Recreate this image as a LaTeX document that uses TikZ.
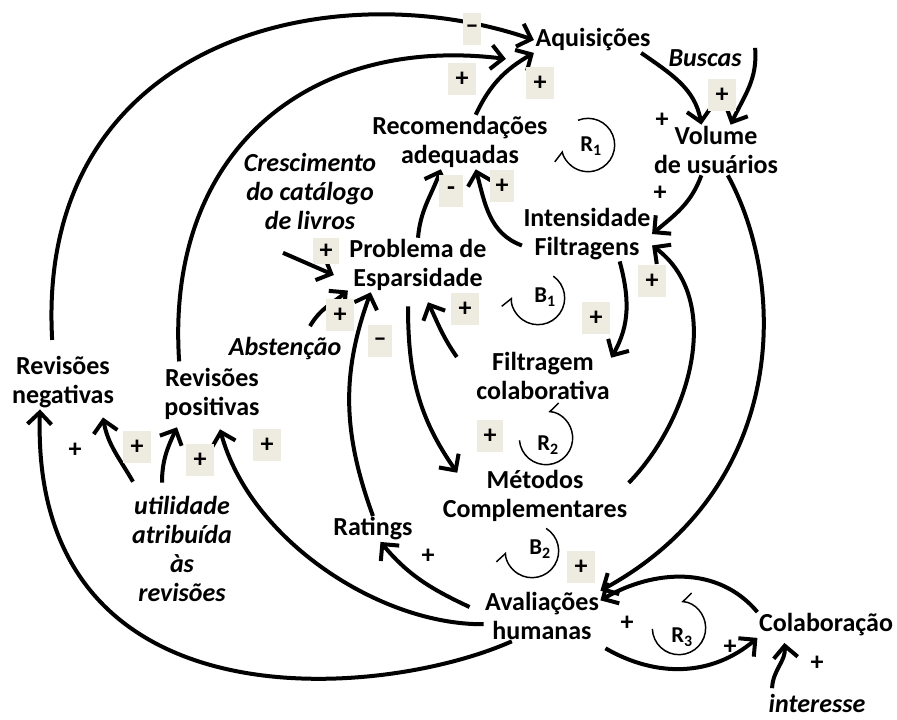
\documentclass[tikz,border=0pt]{standalone}
\usepackage{fontspec}
\setmainfont{Carlito}
\usepackage{xcolor}
\usetikzlibrary{calc, arrows.meta}
\definecolor{signbg}{HTML}{EEECE1}
\tikzset{
    vari/.style={align=center, inner sep=1pt, font=\bfseries\fontsize{19.5}{21.75}\selectfont},
    exo/.style={align=center, inner sep=1pt, font=\bfseries\itshape\fontsize{19.5}{21.75}\selectfont},
    arrow/.style={-{Straight Barb[length=9pt, width=18pt]}, line width=3pt},
    sgn/.style={rectangle, fill=signbg, minimum width=21pt, minimum height=24pt, inner sep=0pt, font=\bfseries\fontsize{19.5}{21.75}\selectfont},
    sgnPlain/.style={inner sep=0pt, font=\bfseries\fontsize{19.5}{21.75}\selectfont},
    loopLbl/.style={inner sep=0pt, font=\bfseries\fontsize{17}{20}\selectfont},
    loopCw/.style={-{Straight Barb[harpoon, length=6pt, width=14pt]}, line width=1.1pt},
    loopCcw/.style={-{Straight Barb[harpoon, swap, length=6pt, width=14pt]}, line width=1.1pt}
}

\begin{document}
\begin{tikzpicture}[x=0.75pt, y=-0.75pt]
    \useasboundingbox (0,0) rectangle (897,719);

    % Variables
    \node[vari] (Aquis) at (593,40) {Aquisições};
    \node[exo] (Buscas) at (705,58) {Buscas};
    \node[vari] (Volume) at (716,150) {Volume\\de usuários};
    \node[vari] (Recom) at (460,142) {Recomendações\\adequadas};
    \node[exo] (Cresc) at (310,191) {Crescimento\\do catálogo\\de livros};
    \node[vari] (Intens) at (587,234) {Intensidade\\Filtragens};
    \node[vari] (Problema) at (418,265) {Problema de\\Esparsidade};
    \node[exo] (Abst) at (285,349) {Abstenção};
    \node[vari] (RevNeg) at (63,382) {Revisões\\negativas};
    \node[vari] (RevPos) at (212,394) {Revisões\\positivas};
    \node[vari] (FiltColab) at (543,376) {Filtragem\\colaborativa};
    \node[vari] (Metodos) at (535,496) {Métodos\\Complementares};
    \node[exo] (Util) at (182,549) {utilidade\\atribuída\\às\\revisões};
    \node[vari] (Ratings) at (373,529) {Ratings};
    \node[vari] (Aval) at (542,616) {Avaliações\\humanas};
    \node[vari] (Colab) at (826,625) {Colaboração};
    \node[exo] (Interesse) at (817,703) {interesse};

    % Loop markers
    \node[loopLbl] (LoopR1) at (591,146) {R\textsubscript{1}};
    \node[loopLbl] (LoopB1) at (545,297) {B\textsubscript{1}};
    \node[loopLbl] (LoopR2) at (548,445) {R\textsubscript{2}};
    \node[loopLbl] (LoopB2) at (540,549) {B\textsubscript{2}};
    \node[loopLbl] (LoopR3) at (682,637) {R\textsubscript{3}};
    \draw[loopCw] ($(LoopR1)+(-3,-1)$) ++(112:20pt) arc[start angle=112, end angle=-168, radius=20pt];
    \draw[loopCw] ($(LoopB1)+(-7,1)$) ++(55:20pt) arc[start angle=55, end angle=-182, radius=20pt];
    \draw[loopCcw] ($(LoopR2)+(-2,-7)$) ++(185:20pt) arc[start angle=185, end angle=445, radius=20pt];
    \draw[loopCw] ($(LoopB2)+(-8,2)$) ++(58:20pt) arc[start angle=58, end angle=-178, radius=20pt];
    \draw[loopCcw] ($(LoopR3)+(-3,-9)$) ++(182:20pt) arc[start angle=182, end angle=445, radius=20pt];

    % Connections
    \draw[arrow, shorten <=11pt] (RevNeg.110) .. controls (35,40) and (330,-30) .. (Aquis.west);
    \draw[arrow, shorten <=4pt] (RevPos.140) .. controls (165,150) and (310,35) .. ($(Aquis.south west)+(-28,6)$);
    \draw[arrow] (Recom.60) to[out=65, in=210] (Aquis.south west);
    \draw[arrow] (Aquis.-15) to[out=-35, in=100] (Volume.120);
    \draw[arrow] ($(Buscas.north east)+(12,0)$) to[out=-85, in=65] (Volume.60);
    \draw[arrow] (Volume.240) to[out=-110, in=40] (Intens.east);
    \draw[arrow] (Volume.295) .. controls (790,290) and (785,490) .. (Aval.north east);
    \draw[arrow] (Metodos.8) .. controls (690,420) and (725,300) .. (Intens.-10);
    \draw[arrow] (Intens.-40) to[out=-75, in=60] (FiltColab.15);
    \draw[arrow] (Intens.190) to[out=160, in=-75] (Recom.-60);
    \draw[arrow] (Problema.north) to[out=85, in=-110] (Recom.-125);
    \draw[arrow] ($(Cresc.south)+(-27,22)$) -- ($(Problema.west)+(-14,10)$);
    \draw[arrow] ($(Abst.north)+(25,-10)$) to[out=60, in=-140] (Problema.200);
    \draw[arrow] (Ratings.north) to[out=110, in=-110] (Problema.-150);
    \draw[arrow] ($(FiltColab.west)+(-18,-19)$) to[out=125, in=-65] ($(Problema.south)+(10,10)$);
    \draw[arrow] ($(Problema.south)+(-10,14)$) to[out=-90, in=125] ($(Metodos.north west)+(16,4)$);
    \draw[arrow] ($(Util.north)+(-49,-13)$) to[out=120, in=-80] ($(RevNeg.south)+(40,8)$);
    \draw[arrow] ($(Util.north)+(-20,-12)$) to[out=90, in=-115] ($(RevPos.south)+(-35,6)$);
    \draw[arrow] (Aval.188) .. controls (380,625) and (250,540) .. ($(RevPos.south)+(8,8)$);
    \draw[arrow] (Aval.-140) .. controls (380,700) and (30,730) .. (RevNeg.-130);
    \draw[arrow] ($(Aval.west)+(-14,-9)$) to[out=155, in=-50] (Ratings.-60);
    \draw[arrow] ($(Aval.south east)+(5,7)$) to[out=-30, in=-140] (Colab.south west);
    \draw[arrow] (Colab.north west) to[out=130, in=30] (Aval.15);
    \draw[arrow] ($(Interesse.north west)+(5,-4)$) to[out=88, in=-85] ($(Colab.south west)+(27,5)$);

    % Polarities
    \node[sgn, minimum width=14pt] (sAqNeg) at (472,29) {\raisebox{-7pt}{–}};
    \node[sgn] (sAqPos) at (462,79) {+};
    \node[sgn] (sAqRec) at (540,83) {+};
    \node[sgn] (sVolBus) at (722,95) {+};
    \node[sgnPlain] (sVolAq) at (662,120) {+};
    \node[sgnPlain] (sIntVol) at (660,193) {+};
    \node[sgn, minimum width=18pt] (sRecProb) at (451,191) {\raisebox{-5pt}{-}};
    \node[sgn, minimum width=18pt] (sRecInt) at (502,186) {+};
    \node[sgn, minimum width=19pt, minimum height=19pt] (sProbCre) at (326,251) {+};
    \node[sgn] (sProbAbs) at (340,315) {+};
    \node[sgn, minimum width=18pt] (sProbRat) at (380,341) {\raisebox{-8pt}{–}};
    \node[sgn] (sProbFil) at (465,309) {+};
    \node[sgn] (sIntMet) at (652,281) {+};
    \node[sgn] (sFilInt) at (596,318) {+};
    \node[sgn, minimum width=19pt] (sMetProb) at (490,436) {+};
    \node[sgn] (sNegUtil) at (137,447) {+};
    \node[sgn] (sPosUtil) at (200,460) {+};
    \node[sgn] (sPosAval) at (267,445) {+};
    \node[sgn] (sAvalVol) at (581,567) {+};
    \node[sgnPlain] (sNegAval) at (75,450) {+};
    \node[sgnPlain] (sRatAval) at (428,556) {+};
    \node[sgnPlain] (sAvalCol) at (627,623) {+};
    \node[sgnPlain] (sColAval) at (730,647) {+};
    \node[sgnPlain] (sColInt) at (817,663) {+};
\end{tikzpicture}
\end{document}
